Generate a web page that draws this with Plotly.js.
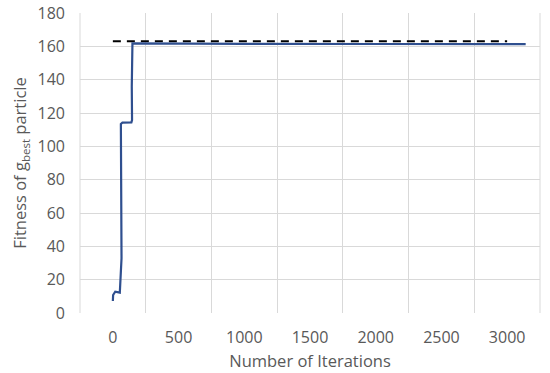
<!DOCTYPE html>
<html>
<head>
<meta charset="utf-8">
<script src="https://cdn.plot.ly/plotly-3.0.1.min.js"></script>
<style>html,body{margin:0;padding:0;background:#fff;}#chart{width:550px;height:373px;}</style>
</head>
<body>
<div id="chart"></div>
<script>
// Best fitness per iteration
var iterations = [0, 2, 18, 43, 53, 66, 63, 61, 61, 73, 141, 146, 144, 149, 500, 1000, 2000, 3141];
var fitness    = [7.2, 10.8, 12.8, 12.2, 12.2, 32.8, 75.8, 105.8, 113.4, 114.2, 114.4, 115.8, 135.8, 161.8, 161.6, 161.5, 161.4, 161.3];
// Reference (optimum) level
var refX = [0, 3000];
var refY = [163, 163];
// Tick labels
var xTicks = [0, 500, 1000, 1500, 2000, 2500, 3000];
var yTicks = [0, 20, 40, 60, 80, 100, 120, 140, 160, 180];

var traces = [
  {x: refX, y: refY, mode: 'lines', line: {color: '#000000', width: 2, dash: '8px,6px'}, hoverinfo: 'skip'},
  {x: iterations, y: fitness, mode: 'lines', line: {color: '#2f4f8f', width: 2.2}}
];

var fam = '"Open Sans", sans-serif';

var layout = {
  width: 550, height: 373,
  margin: {l: 80, r: 10, t: 13, b: 60},
  paper_bgcolor: '#ffffff', plot_bgcolor: '#ffffff',
  showlegend: false,
  font: {family: fam, color: '#595959'},
  xaxis: {
    range: [-250, 3250],
    tickvals: xTicks, ticktext: xTicks.map(String),
    showgrid: false, zeroline: false, showline: false, ticks: '',
    ticklabelstandoff: 13,
    tickfont: {family: fam, size: 16, color: '#595959'},
    minor: {tick0: -250, dtick: 500, showgrid: true, gridcolor: '#d9d9d9', gridwidth: 1, ticks: ''},
    title: {text: 'Number of Iterations', font: {family: fam, size: 16.5, color: '#595959'}, standoff: 8}
  },
  yaxis: {
    range: [0, 180],
    tickvals: yTicks, ticktext: yTicks.map(String),
    showgrid: true, gridcolor: '#d9d9d9', gridwidth: 1,
    zeroline: false, showline: false, ticks: '',
    ticklabelstandoff: 14,
    tickfont: {family: fam, size: 16, color: '#595959'},
    title: {text: 'Fitness of g<sub>best</sub> particle', font: {family: fam, size: 16.5, color: '#595959'}, standoff: 6}
  },
  shapes: [
    {type: 'line', xref: 'paper', yref: 'paper', x0: 0, x1: 0, y0: 0, y1: 1, line: {color: '#d9d9d9', width: 1}},
    {type: 'line', xref: 'paper', yref: 'paper', x0: 1, x1: 1, y0: 0, y1: 1, line: {color: '#d9d9d9', width: 1}}
  ]
};

Plotly.newPlot('chart', traces, layout, {displayModeBar: false, staticPlot: true});
</script>
</body>
</html>
